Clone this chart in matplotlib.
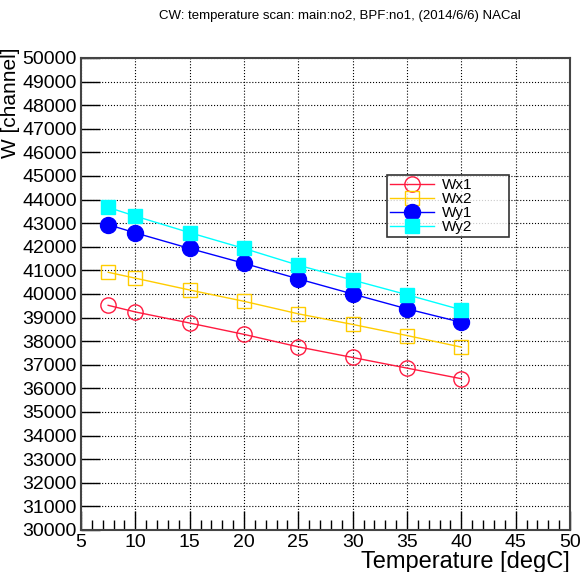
import matplotlib
matplotlib.use('Agg')
import matplotlib.pyplot as plt
from matplotlib.ticker import MultipleLocator

plt.rcParams['font.family'] = ['Liberation Sans', 'DejaVu Sans']

# data
temp = [7.5, 10, 15, 20, 25, 30, 35, 40]
wx1 = [39520, 39240, 38770, 38290, 37760, 37310, 36860, 36410]
wx2 = [40920, 40670, 40170, 39690, 39160, 38710, 38240, 37750]
wy1 = [42940, 42590, 41930, 41300, 40640, 40000, 39370, 38800]
wy2 = [43670, 43300, 42600, 41930, 41220, 40590, 39970, 39330]

W, H = 580, 572
fig = plt.figure(figsize=(W / 100, H / 100), dpi=100)
ax = fig.add_axes([81 / W, 1 - 530 / H, (570 - 81) / W, (530 - 58) / H])

ax.plot(temp, wx1, color='#ff1a40', lw=1, marker='o', ms=11, mfc='none',
        mec='#ff1a40', mew=1, label='Wx1')
ax.plot(temp, wx2, color='#ffcc00', lw=1, marker='s', ms=10.5, mfc='none',
        mec='#ffcc00', mew=1, label='Wx2')
ax.plot(temp, wy1, color='#0000ff', lw=1, marker='o', ms=11.5,
        mfc='#0000ff', mec='#0000ff', label='Wy1')
ax.plot(temp, wy2, color='#00ffff', lw=1, marker='s', ms=10.5,
        mfc='#00ffff', mec='#00ffff', label='Wy2')

ax.set_xlim(5, 50)
ax.set_ylim(30000, 50000)
ax.xaxis.set_major_locator(MultipleLocator(5))
ax.xaxis.set_minor_locator(MultipleLocator(1))
ax.yaxis.set_major_locator(MultipleLocator(1000))

ax.grid(True, which='major', color='black', ls=':', lw=0.8)
ax.tick_params(which='both', direction='in', labelsize=14, colors='black')
ax.tick_params(axis='x', which='major', length=14, width=1, top=False, pad=3)
ax.tick_params(axis='x', which='minor', length=7, width=1)
ax.tick_params(axis='y', which='major', length=14, width=1, pad=3)
for s in ax.spines.values():
    s.set_color('#444444')
    s.set_linewidth(1.5)

# right-aligned axis titles, ROOT style
fig.text(570 / W, 1 - 568 / H, 'Temperature [degC]', ha='right',
         va='baseline', fontsize=17)
fig.text(11 / W, 1 - 48 / H, 'W [channel]', rotation=90, ha='center',
         va='top', fontsize=15, zorder=0)

fig.text(340 / W, 1 - 16 / H,
         'CW: temperature scan: main:no2, BPF:no1, (2014/6/6) NACal',
         ha='center', va='center', fontsize=9.5)

leg = ax.legend(loc='upper left',
                bbox_to_anchor=(387 / W, 1 - 240 / H, 122 / W, 65 / H),
                bbox_transform=fig.transFigure, mode='expand', fontsize=11,
                frameon=True, fancybox=False, edgecolor='black',
                borderpad=0.2, handlelength=2.9, handletextpad=0.5,
                labelspacing=0.0, borderaxespad=0)
leg.get_frame().set_linewidth(1.2)

fig.savefig('out.png', dpi=100, facecolor='white')
